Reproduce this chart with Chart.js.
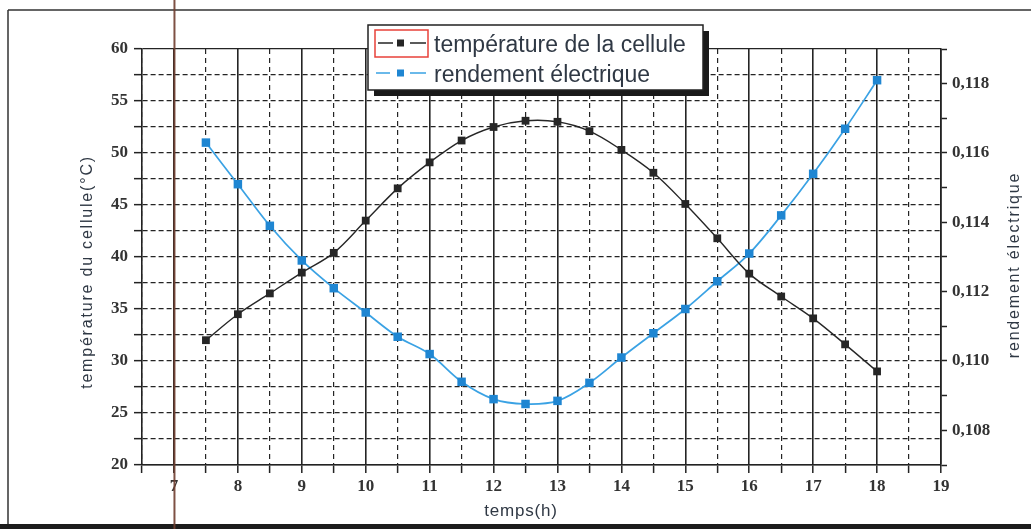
<!DOCTYPE html>
<html><head><meta charset="utf-8">
<script src="https://cdn.jsdelivr.net/npm/chart.js@4.4.1/dist/chart.umd.min.js"></script>
<style>html,body{margin:0;padding:0;background:#fff;}#wrap{position:relative;width:1031px;height:529px;}</style>
</head><body><div id="wrap"><canvas id="c" width="1031" height="529"></canvas></div>
<script>
// ---- data ----
const hours = [7.5, 8, 8.5, 9, 9.5, 10, 10.5, 11, 11.5, 12, 12.5, 13, 13.5, 14, 14.5, 15, 15.5, 16, 16.5, 17, 17.5, 18];
const temperature = [32.0, 34.5, 36.5, 38.5, 40.4, 43.5, 46.6, 49.1, 51.2, 52.5, 53.1, 53.0, 52.1, 50.3, 48.1, 45.1, 41.8, 38.4, 36.2, 34.1, 31.6, 29.0];
const rendement = [0.1163, 0.1151, 0.1139, 0.1129, 0.1121, 0.1114, 0.1107, 0.1102, 0.1094, 0.1089, 0.10876, 0.10885, 0.10937, 0.1101, 0.1108, 0.1115, 0.1123, 0.1131, 0.1142, 0.1154, 0.1167, 0.1181];
const xTickValues = [6.5, 7, 7.5, 8, 8.5, 9, 9.5, 10, 10.5, 11, 11.5, 12, 12.5, 13, 13.5, 14, 14.5, 15, 15.5, 16, 16.5, 17, 17.5, 18, 18.5, 19];
const leftTickValues = [20, 22.5, 25, 27.5, 30, 32.5, 35, 37.5, 40, 42.5, 45, 47.5, 50, 52.5, 55, 57.5, 60];
const rightTickValues = [0.107, 0.108, 0.109, 0.110, 0.111, 0.112, 0.113, 0.114, 0.115, 0.116, 0.117, 0.118, 0.119];
const seriesNames = ['température de la cellule', 'rendement électrique'];
const xTitle = 'temps(h)';
const leftTitle = 'température du cellule(°C)';
const rightTitle = 'rendement électrique';

const BLACK = '#262626';
const BLUE_LINE = '#3aa2e4';
const BLUE_PT = '#1f86d2';
const TXT = '#2f3844';
const serif = 'bold 17px "Liberation Serif", "Times New Roman", serif';

const frame = {
  id: 'frame',
  beforeDraw(chart) {
    const ctx = chart.ctx;
    ctx.save();
    ctx.fillStyle = '#fff';
    ctx.fillRect(0, 0, chart.width, chart.height);
    ctx.strokeStyle = '#333';
    ctx.lineWidth = 1.5;
    ctx.beginPath();
    ctx.moveTo(8, 10); ctx.lineTo(chart.width, 10);
    ctx.moveTo(8, 10); ctx.lineTo(8, 525);
    ctx.stroke();
    ctx.fillStyle = '#1c1c1c';
    ctx.fillRect(0, 524, chart.width, 5);
    ctx.restore();
  },
  afterDraw(chart) {
    const ctx = chart.ctx;
    const x = chart.scales.x.getPixelForValue(7);
    ctx.save();
    ctx.strokeStyle = 'rgba(112,62,48,0.9)';
    ctx.lineWidth = 2;
    ctx.beginPath();
    ctx.moveTo(x + 0.5, 0); ctx.lineTo(x + 0.5, chart.height);
    ctx.stroke();
    ctx.restore();
  }
};

const titles = {
  id: 'titles',
  afterDraw(chart) {
    const ctx = chart.ctx;
    const a = chart.chartArea;
    ctx.save();
    ctx.fillStyle = TXT;
    ctx.textAlign = 'center';
    ctx.textBaseline = 'middle';
    ctx.font = '16px "Liberation Sans", Arial, sans-serif';
    ctx.letterSpacing = '1.8px';
    ctx.save(); ctx.translate(88, 272); ctx.rotate(-Math.PI / 2); ctx.fillText(leftTitle, 0, 0); ctx.restore();
    ctx.save(); ctx.translate(1015, 265); ctx.rotate(-Math.PI / 2); ctx.fillText(rightTitle, 0, 0); ctx.restore();
    ctx.font = '17px "Liberation Sans", Arial, sans-serif';
    ctx.letterSpacing = '0.8px';
    ctx.fillText(xTitle, 521, 511);
    ctx.restore();
  }
};

const legendBox = {
  id: 'legendBox',
  afterDraw(chart) {
    const ctx = chart.ctx;
    const L = 368, T = 25, W = 335, H = 65;
    ctx.save();
    ctx.fillStyle = '#1a1a1a';
    ctx.fillRect(L + 6, T + 6, W, H);
    ctx.fillStyle = '#fff';
    ctx.fillRect(L, T, W, H);
    ctx.strokeStyle = '#222';
    ctx.lineWidth = 1.5;
    ctx.strokeRect(L, T, W, H);
    // red selection rectangle
    ctx.strokeStyle = '#e8413a';
    ctx.lineWidth = 1.5;
    ctx.strokeRect(375, 30, 53, 27);
    const ds = chart.data.datasets;
    const rows = [43, 73];
    rows.forEach((y, i) => {
      const d = ds[i];
      ctx.strokeStyle = d.borderColor;
      ctx.lineWidth = i === 0 ? 1.4 : 1.6;
      ctx.beginPath();
      if (i === 0) { ctx.moveTo(378, y); ctx.lineTo(393, y); ctx.moveTo(410, y); ctx.lineTo(426, y); }
      else { ctx.moveTo(376, y); ctx.lineTo(390, y); ctx.moveTo(410, y); ctx.lineTo(426, y); }
      ctx.stroke();
      ctx.fillStyle = d.pointBackgroundColor;
      ctx.fillRect(397, y - 3.5, 7, 7);
      ctx.fillStyle = TXT;
      ctx.font = '23px "Liberation Sans", Arial, sans-serif';
      ctx.textAlign = 'left';
      ctx.textBaseline = 'alphabetic';
      ctx.fillText(d.label, 434, y + 9);
    });
    ctx.restore();
  }
};

const isInt = v => Math.abs(v - Math.round(v)) < 1e-9;

new Chart(document.getElementById('c'), {
  type: 'line',
  data: {
    datasets: [
      {
        label: seriesNames[0],
        data: hours.map((h, i) => ({x: h, y: temperature[i]})),
        yAxisID: 'y',
        borderColor: BLACK,
        borderWidth: 1.4,
        pointStyle: 'rect',
        pointRadius: 5.5,
        pointBackgroundColor: BLACK,
        pointBorderWidth: 0,
        tension: 0.35,
        fill: false
      },
      {
        label: seriesNames[1],
        data: hours.map((h, i) => ({x: h, y: rendement[i]})),
        yAxisID: 'y2',
        borderColor: BLUE_LINE,
        borderWidth: 1.7,
        pointStyle: 'rect',
        pointRadius: 6,
        pointBackgroundColor: BLUE_PT,
        pointBorderWidth: 0,
        tension: 0.35,
        fill: false
      }
    ]
  },
  options: {
    responsive: false,
    devicePixelRatio: 1,
    animation: false,
    layout: {padding: {top: 49, left: 0, right: 0, bottom: 0}},
    plugins: {legend: {display: false}, tooltip: {enabled: false}},
    scales: {
      x: {
        type: 'linear', position: 'bottom', min: 6.5, max: 19,
        afterBuildTicks: s => { s.ticks = xTickValues.map(v => ({value: v})); },
        afterFit: s => { s.height = 64; },
        ticks: {
          autoSkip: false, maxRotation: 0, padding: 3, color: '#333', font: {family: '"Liberation Serif", "Times New Roman", serif', size: 17, weight: 'bold'},
          callback: v => isInt(v) ? String(v) : ''
        },
        grid: {
          color: '#242424',
          lineWidth: c => (c.tick && isInt(c.tick.value)) ? 1.6 : 1.2,
          tickLength: 8, tickColor: '#222', tickWidth: 1.5
        },
        border: {display: true, color: '#222', width: 1.6, dash: c => (c.tick && !isInt(c.tick.value)) ? [5, 4] : []}
      },
      y: {
        type: 'linear', position: 'left', min: 20, max: 60,
        afterBuildTicks: s => { s.ticks = leftTickValues.map(v => ({value: v})); },
        afterFit: s => { s.width = 142; },
        ticks: {
          autoSkip: false, padding: 6, color: '#333', font: {family: '"Liberation Serif", "Times New Roman", serif', size: 17, weight: 'bold'},
          callback: v => (Math.abs(v % 5) < 1e-9) ? String(v) : ''
        },
        grid: {color: '#242424', lineWidth: 1.3, tickLength: 8, tickColor: '#222', tickWidth: 1.5},
        border: {display: true, color: '#222', width: 1.6, dash: c => (c.tick && c.tick.value !== 60 && c.tick.value !== 20) ? [5, 3] : []}
      },
      y2: {
        type: 'linear', position: 'right', min: 0.107, max: 0.119,
        afterBuildTicks: s => { s.ticks = rightTickValues.map(v => ({value: v})); },
        afterFit: s => { s.width = 90; },
        ticks: {
          autoSkip: false, padding: 5, color: '#333', font: {family: '"Liberation Serif", "Times New Roman", serif', size: 17, weight: 'bold'},
          callback: v => { const k = Math.round(v * 1000); return k % 2 === 0 ? (k / 1000).toFixed(3).replace('.', ',') : ''; }
        },
        grid: {drawOnChartArea: false, tickLength: 6, tickColor: '#222', tickWidth: 1.5},
        border: {display: true, color: '#222', width: 1.6}
      }
    }
  },
  plugins: [frame, titles, legendBox]
});
</script>
</body></html>
